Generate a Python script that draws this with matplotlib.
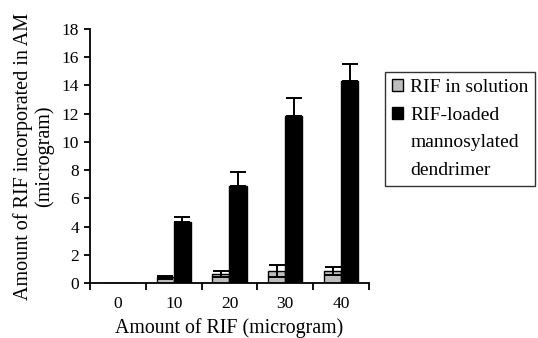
import numpy as np
import matplotlib
matplotlib.use("Agg")
import matplotlib.pyplot as plt
from matplotlib.patches import Patch

plt.rcParams['font.family'] = ['Liberation Serif', 'DejaVu Serif']

# Data
amounts = ['0', '10', '20', '30', '40']
solution = [0.0, 0.4, 0.65, 0.85, 0.85]
solution_err = [0.0, 0.12, 0.2, 0.45, 0.25]
dendrimer = [0.0, 4.3, 6.9, 11.8, 14.3]
dendrimer_err = [0.0, 0.4, 0.95, 1.3, 1.2]

fig = plt.figure(figsize=(5.38, 3.38), dpi=100)
ax = fig.add_axes([90/538, 1-283/338, (369-90)/538, (283-29)/338])

x = np.arange(len(amounts))
w = 0.305
sol = np.array(solution)
den = np.array(dendrimer)
has = sol > 0

ax.bar(x - w/2, sol, w, color='#bdbdbd', edgecolor='black', linewidth=1.0)
ax.bar(x + w/2, den, w, color='black', edgecolor='black', linewidth=1.0)

# error bars (solution two-sided, dendrimer upper only)
ax.errorbar((x - w/2)[has], sol[has], yerr=np.array(solution_err)[has],
            fmt='none', ecolor='black', elinewidth=1.4, capsize=5.5, capthick=1.4)
ax.errorbar((x + w/2)[has], den[has],
            yerr=[np.zeros(has.sum()), np.array(dendrimer_err)[has]],
            fmt='none', ecolor='black', elinewidth=1.4, capsize=5.5, capthick=1.4)

ax.set_xlim(-0.5, len(amounts) - 0.5)
ax.set_ylim(0, 18)
ax.set_yticks(np.arange(0, 19, 2))
ax.set_xticks(np.arange(len(amounts) + 1) - 0.5)
ax.set_xticklabels([])
ax.set_xticks(x, minor=True)
ax.set_xticklabels(amounts, minor=True)
ax.tick_params(axis='x', which='minor', length=0, pad=9, labelsize=12.5)
ax.tick_params(axis='x', which='major', direction='out', length=5, width=1.3)
ax.tick_params(axis='y', direction='out', length=4, width=1.3, labelsize=12.5, pad=4)

for s in ['top', 'right']:
    ax.spines[s].set_visible(False)
for s in ['left', 'bottom']:
    ax.spines[s].set_linewidth(1.3)

ax.set_xlabel('Amount of RIF (microgram)', fontsize=14.3, labelpad=5)
ax.set_ylabel('Amount of RIF incorporated in AM\n(microgram)', fontsize=14.5,
              linespacing=1.1, labelpad=5)

# legend: continuation lines get invisible handles so the box sits on the first line
blank = Patch(facecolor='none', edgecolor='none')
handles = [Patch(facecolor='#bdbdbd', edgecolor='black'),
           Patch(facecolor='black', edgecolor='black'), blank, blank]
labels = ['RIF in solution', 'RIF-loaded', 'mannosylated', 'dendrimer']
leg = fig.legend(handles, labels,
                 loc='upper left', bbox_to_anchor=(385/538, 1-72/338),
                 borderaxespad=0, fontsize=14, frameon=True, fancybox=False,
                 edgecolor='black', borderpad=0.35, handlelength=0.6,
                 handleheight=0.6, handletextpad=0.35, labelspacing=0.55)
leg.get_frame().set_linewidth(1.0)

fig.savefig('out.png', dpi=100)
